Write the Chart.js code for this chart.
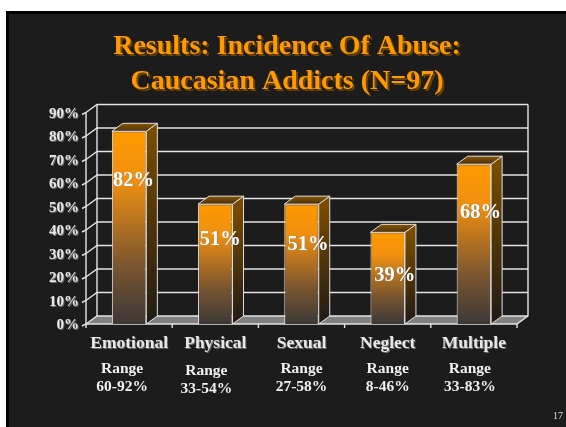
<!DOCTYPE html>
<html>
<head>
<meta charset="utf-8">
<title>Incidence Of Abuse</title>
<script src="https://cdn.jsdelivr.net/npm/chart.js@4"></script>
<style>
  html, body { margin: 0; padding: 0; background: #fff; overflow: hidden; }
  #border { position: absolute; left: 6px; top: 11px; width: 560px; height: 416px; background: #000; }
  #slide { position: absolute; left: 9px; top: 14px; width: 557px; height: 413px; background: #1c1c1c; }
  #wrap { position: absolute; left: 0; top: 0; width: 566px; height: 427px; }
</style>
</head>
<body>
<div id="border"></div>
<div id="slide"></div>
<div id="wrap"><canvas id="chart" width="566" height="427"></canvas></div>
<script>
const titleLines = ['Results: Incidence Of Abuse:', 'Caucasian Addicts (N=97)'];
const categories = ['Emotional', 'Physical', 'Sexual', 'Neglect', 'Multiple'];
const incidence = [82, 51, 51, 39, 68];
const valueLabels = ['82%', '51%', '51%', '39%', '68%'];
const rangeLabels = ['60-92%', '33-54%', '27-58%', '8-46%', '33-83%'];
const pageNumber = '17';

// depth of the fake 3d box
const DX = 11, DY = -8;
const SERIF = '"Liberation Serif", serif';

function shadowText(ctx, text, x, y, font, color, shadow, off) {
    ctx.font = font;
    ctx.fillStyle = shadow;
    ctx.fillText(text, x + off, y + off);
    ctx.fillStyle = color;
    ctx.fillText(text, x, y);
}

// back wall, side wall and floor
const boxPlugin = {
    id: 'box',
    beforeDatasetsDraw(chart) {
        const ctx = chart.ctx, xs = chart.scales.x, ys = chart.scales.y;
        const left = xs.left, right = xs.right, bottom = ys.bottom;
        ctx.save();
        ctx.fillStyle = '#808080';
        ctx.beginPath();
        ctx.moveTo(left, bottom);
        ctx.lineTo(left + DX, bottom + DY);
        ctx.lineTo(right + DX, bottom + DY);
        ctx.lineTo(right, bottom);
        ctx.closePath();
        ctx.fill();

        ctx.lineWidth = 1.4;
        ctx.strokeStyle = '#e4e4e4';
        ys.ticks.forEach(t => {
            const y = ys.getPixelForValue(t.value);
            ctx.beginPath();
            ctx.moveTo(left - 4, y + 2);
            ctx.lineTo(left, y);
            ctx.lineTo(left + DX, y + DY);
            ctx.lineTo(right + DX, y + DY);
            ctx.stroke();
        });
        ctx.beginPath();
        ctx.moveTo(left, bottom);
        ctx.lineTo(left, ys.top);
        ctx.moveTo(left + DX, bottom + DY);
        ctx.lineTo(left + DX, ys.top + DY);
        ctx.moveTo(right + DX, ys.top + DY);
        ctx.lineTo(right + DX, bottom + DY);
        ctx.lineTo(right, bottom);
        ctx.lineTo(left, bottom);
        ctx.stroke();
        // tick marks under the axis, between the categories
        for (let i = 0; i <= categories.length; i++) {
            const x = left + (right - left) * i / categories.length;
            ctx.beginPath();
            ctx.moveTo(x, bottom);
            ctx.lineTo(x, bottom + 4);
            ctx.stroke();
        }
        ctx.restore();
    },
    // side and top of each bar, then the labels on top
    afterDatasetsDraw(chart) {
        const ctx = chart.ctx, ys = chart.scales.y;
        const bars = chart.getDatasetMeta(0).data;
        // where the percent labels sit, they are not centred in the reference
        const labelNudgeX = [4.5, 5, 6.5, 7, 6.7];
        const labelLevel = [58.9, 33.7, 31.6, 18.3, 45.2];
        ctx.save();
        bars.forEach(bar => {
            const half = bar.width / 2;
            const l = bar.x - half, r = bar.x + half, top = bar.y, bot = bar.base;

            const side = ctx.createLinearGradient(0, top, 0, bot);
            side.addColorStop(0, '#7a4c00');
            side.addColorStop(1, '#1f1a16');
            ctx.fillStyle = side;
            ctx.beginPath();
            ctx.moveTo(r, top);
            ctx.lineTo(r + DX, top + DY);
            ctx.lineTo(r + DX, bot + DY);
            ctx.lineTo(r, bot);
            ctx.closePath();
            ctx.fill();
            ctx.strokeStyle = '#e0e0e0';
            ctx.lineWidth = 1;
            ctx.stroke();

            const cap = ctx.createLinearGradient(0, top + DY, 0, top);
            cap.addColorStop(0, '#8a5600');
            cap.addColorStop(1, '#4a3010');
            ctx.fillStyle = cap;
            ctx.beginPath();
            ctx.moveTo(l, top);
            ctx.lineTo(l + DX, top + DY);
            ctx.lineTo(r + DX, top + DY);
            ctx.lineTo(r, top);
            ctx.closePath();
            ctx.fill();
            ctx.stroke();
        });

        ctx.textAlign = 'center';
        ctx.textBaseline = 'alphabetic';
        bars.forEach((bar, i) => {
            shadowText(ctx, valueLabels[i], bar.x + labelNudgeX[i], ys.getPixelForValue(labelLevel[i]),
                'bold 20.5px ' + SERIF, '#ffffff', '#6e6e6e', 0.5);
        });
        ctx.restore();
    },
    afterDraw(chart) {
        const ctx = chart.ctx, xs = chart.scales.x, ys = chart.scales.y;
        const rangeNudgeX = [-7, -9, 0, 0, -4];
        const rangeNudgeY = [0, 1.5, 0, 0, 0];
        ctx.save();
        ctx.textAlign = 'center';
        ctx.textBaseline = 'alphabetic';
        titleLines.forEach((line, i) => {
            shadowText(ctx, line, 287, 54 + i * 35, 'bold 28px ' + SERIF, '#ff9900', '#6b4200', 2);
        });
        // y axis labels
        ctx.textAlign = 'right';
        ys.ticks.forEach(t => {
            shadowText(ctx, t.value + '%', 79, ys.getPixelForValue(t.value) + 5,
                'bold 15px ' + SERIF, '#e8e8e8', '#707070', 1);
        });
        // categories and ranges
        ctx.textAlign = 'center';
        categories.forEach((c, i) => {
            const x = xs.getPixelForValue(i);
            shadowText(ctx, c, x, 348, 'bold 17.5px ' + SERIF, '#e8e8e8', '#707070', 1);
            ctx.font = 'bold 15.5px ' + SERIF;
            ctx.fillStyle = '#f0f0f0';
            ctx.fillText('Range', x + rangeNudgeX[i], 373 + rangeNudgeY[i]);
            ctx.fillText(rangeLabels[i], x + rangeNudgeX[i], 391 + rangeNudgeY[i]);
        });
        ctx.textAlign = 'left';
        ctx.font = '10px ' + SERIF;
        ctx.fillStyle = '#d8d8d8';
        ctx.fillText(pageNumber, 553, 419);
        ctx.restore();
    }
};

new Chart(document.getElementById('chart'), {
    type: 'bar',
    data: {
        labels: categories,
        datasets: [{
            data: incidence,
            borderColor: '#e8e8e8',
            borderWidth: 1,
            barPercentage: 0.4,
            categoryPercentage: 1,
            backgroundColor(c) {
                const area = c.chart.chartArea;
                const ys = c.chart.scales.y;
                if (!area || !ys || c.dataIndex === undefined) return '#ff9900';
                const top = ys.getPixelForValue(incidence[c.dataIndex]);
                const g = c.chart.ctx.createLinearGradient(0, top, 0, area.bottom);
                g.addColorStop(0, '#ff9900');
                g.addColorStop(0.25, '#f09010');
                g.addColorStop(0.7, '#7a5530');
                g.addColorStop(1, '#3c3836');
                return g;
            }
        }]
    },
    options: {
        responsive: false,
        animation: false,
        layout: { padding: { left: 86, right: 566 - 517, top: 112.5, bottom: 427 - 324 } },
        plugins: { legend: { display: false }, tooltip: { enabled: false } },
        scales: {
            x: { display: false },
            y: { display: false, min: 0, max: 90, ticks: { stepSize: 10 } }
        }
    },
    plugins: [boxPlugin]
});
</script>
</body>
</html>
